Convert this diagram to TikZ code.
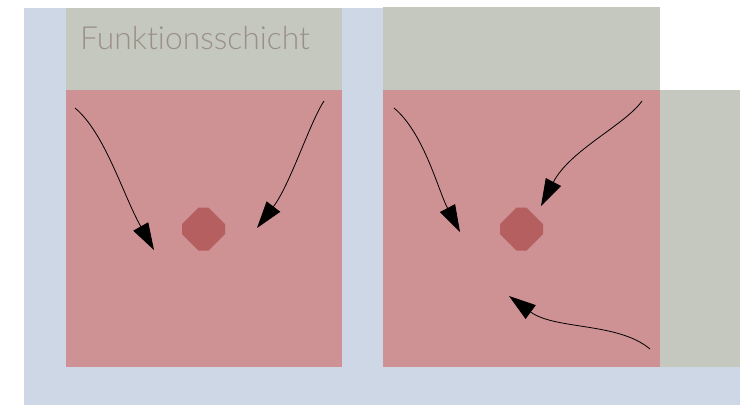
\documentclass[tikz,border=0pt]{standalone}
\usepackage{fontspec}
\usepackage{tikz}
\usetikzlibrary{arrows.meta}
\newfontfamily\latolight{Lato Light}[RawFeature={-liga}]
\definecolor{schichtblau}{RGB}{206,215,230}
\definecolor{schichtgrau}{RGB}{197,200,191}
\definecolor{schichtrot}{RGB}{206,145,148}
\definecolor{kernrot}{RGB}{181,95,96}
\definecolor{titelgrau}{RGB}{155,144,134}
\tikzset{
		hintergrund/.style={fill=schichtblau, draw=none},
		kopf/.style={fill=schichtgrau, draw=none},
		feld/.style={fill=schichtrot, draw=none},
		kernstueck/.style={fill=kernrot, draw=none},
		pfeil/.style={-{Triangle[length=27pt, width=17pt]}, line width=0.8pt}
	}
% achteckiger Kern um einen Mittelpunkt
\newcommand{\achteck}[1]{\fill[kernstueck] (#1) ++(-5,-21.5) -- ++(10,0) -- ++(16.5,16.5) -- ++(0,10) -- ++(-16.5,16.5) -- ++(-10,0) -- ++(-16.5,-16.5) -- ++(0,-10) -- cycle;}

\begin{document}
\begin{tikzpicture}[x=1pt, y=-1pt]
				\useasboundingbox (0,0) rectangle (740,405);
				% Untergrund
				\fill[hintergrund] (24,8) rectangle (383,405);
				\fill[hintergrund] (24,367) rectangle (740,405);
				% linke Schicht
				\fill[kopf] (66,8) rectangle (342,90);
				\fill[feld] (66,90) rectangle (342,367);
				% rechte Schicht
				\fill[kopf] (383,7) rectangle (660,90);
				\fill[feld] (383,90) rectangle (660,367);
				\fill[kopf] (660,90) rectangle (740,367);
				
				\node[anchor=base west, inner sep=0pt, text=titelgrau] (titel) at (80,49) {\latolight\fontsize{31.8}{38}\selectfont Funktionsschicht};
				
				\coordinate (k0) at (203.5,229);
				\coordinate (k1) at (521.5,229);
				\achteck{k0}
				\achteck{k1}
				
				% Pfeile links
				\coordinate (a0) at (75,108);    \coordinate (b0) at (154,250);
				\coordinate (a1) at (324,101);   \coordinate (b1) at (257,228);
				% Pfeile rechts
				\coordinate (a2) at (394,108);   \coordinate (b2) at (460,232);
				\coordinate (a3) at (642,101);   \coordinate (b3) at (541,206);
				\coordinate (a4) at (650,349);   \coordinate (b4) at (509,296);
				
				\draw[pfeil] (a0) .. controls (105,133) and (123,195) .. (b0);
				\draw[pfeil] (a1) .. controls (310,122) and (290,185) .. (b1);
				\draw[pfeil] (a2) .. controls (424,133) and (438,190) .. (b2);
				\draw[pfeil] (a3) .. controls (625,125) and (570,150) .. (b3);
				\draw[pfeil] (a4) .. controls (618,322) and (555,330) .. (b4);
			\end{tikzpicture}
\end{document}
